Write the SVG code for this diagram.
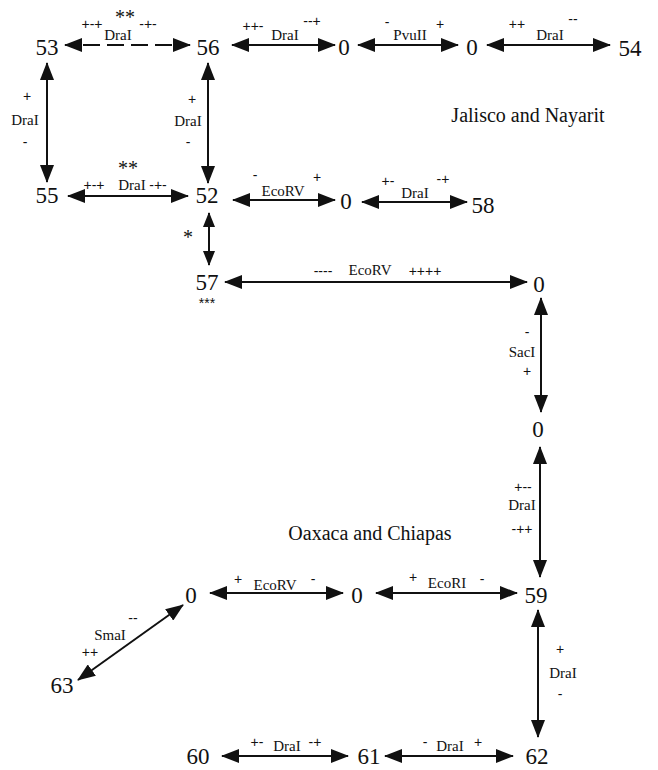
<svg xmlns="http://www.w3.org/2000/svg" width="658" height="770" viewBox="0 0 658 770">
<style>
.n{font-family:'Liberation Serif','DejaVu Serif','Times New Roman',serif;font-size:23px;fill:#111;text-anchor:middle}
.e{font-family:'Liberation Serif','DejaVu Serif','Times New Roman',serif;font-size:15px;fill:#111;text-anchor:middle}
.s{font-family:'Liberation Sans',Arial,sans-serif;font-size:14px;fill:#111;text-anchor:middle}
.st{font-family:'Liberation Serif','DejaVu Serif','Times New Roman',serif;font-size:20px;fill:#111;text-anchor:middle}
.t{font-family:'Liberation Serif','DejaVu Serif','Times New Roman',serif;font-size:20px;fill:#111;text-anchor:middle}
.c{stroke:#111;stroke-width:2;fill:none;marker-start:url(#ah);marker-end:url(#ah)}
.cs{stroke:#111;stroke-width:2;fill:none;marker-start:url(#ahs);marker-end:url(#ahs)}
</style>
<defs>
<marker id="ah" viewBox="0 0 18 14" refX="17" refY="7" markerWidth="18" markerHeight="14" markerUnits="userSpaceOnUse" orient="auto-start-reverse"><path d="M0,0 L18,7 L0,14 z" fill="#111"/></marker>
<marker id="ahs" viewBox="0 0 15 12" refX="14" refY="6" markerWidth="15" markerHeight="12" markerUnits="userSpaceOnUse" orient="auto-start-reverse"><path d="M0,0 L15,6 L0,12 z" fill="#111"/></marker>
</defs>
<rect width="658" height="770" fill="#fff"/>
<g id="connectors">
<line class="c" x1="65" y1="45" x2="190" y2="45" stroke-dasharray="17,7" stroke-dashoffset="6"/>
<line class="c" x1="232" y1="45" x2="335" y2="45"/>
<line class="c" x1="358" y1="45" x2="458" y2="45"/>
<line class="c" x1="487" y1="45" x2="610" y2="45"/>
<line class="c" x1="47" y1="63" x2="47" y2="182"/>
<line class="c" x1="208" y1="63" x2="208" y2="183"/>
<line class="c" x1="68" y1="196" x2="188" y2="196"/>
<line class="c" x1="233" y1="200" x2="335" y2="200"/>
<line class="c" x1="362" y1="202" x2="467" y2="202"/>
<line class="cs" x1="209" y1="213" x2="209" y2="265"/>
<line class="c" x1="225" y1="282" x2="527" y2="282"/>
<line class="c" x1="541" y1="298" x2="541" y2="412"/>
<line class="c" x1="540" y1="447" x2="540" y2="577"/>
<line class="c" x1="210" y1="593" x2="343" y2="593"/>
<line class="c" x1="376" y1="593" x2="517" y2="593"/>
<line class="c" x1="538" y1="610" x2="538" y2="737"/>
<line class="c" x1="183" y1="605" x2="78" y2="680"/>
<line class="c" x1="222" y1="756" x2="348" y2="756"/>
<line class="c" x1="385" y1="756" x2="513" y2="756"/>
</g>
<g id="labels">
<text class="s" x="92" y="29">+-+</text>
<text class="st" x="125" y="24">**</text>
<text class="s" x="148" y="29">-+-</text>
<text class="e" x="118" y="40">DraI</text>
<text class="s" x="253" y="31">++-</text>
<text class="e" x="285" y="40">DraI</text>
<text class="s" x="312" y="26">--+</text>
<text class="s" x="387" y="27">-</text>
<text class="e" x="410" y="40">PvuII</text>
<text class="s" x="440" y="29">+</text>
<text class="s" x="517" y="29">++</text>
<text class="e" x="550" y="40">DraI</text>
<text class="s" x="573" y="24">--</text>
<text class="s" x="27" y="101">+</text>
<text class="e" x="25" y="125">DraI</text>
<text class="s" x="25" y="147">-</text>
<text class="s" x="192" y="104">+</text>
<text class="e" x="188" y="126">DraI</text>
<text class="s" x="188" y="147">-</text>
<text class="st" x="128" y="175">**</text>
<text class="s" x="94" y="190">+-+</text>
<text class="e" x="132" y="190">DraI</text>
<text class="s" x="158" y="190">-+-</text>
<text class="s" x="255" y="180">-</text>
<text class="e" x="283" y="196">EcoRV</text>
<text class="s" x="317" y="182">+</text>
<text class="s" x="388" y="186">+-</text>
<text class="e" x="415" y="198">DraI</text>
<text class="s" x="443" y="184">-+</text>
<text class="st" x="188" y="244">*</text>
<text class="s" x="207" y="308">***</text>
<text class="s" x="323" y="276">----</text>
<text class="e" x="370" y="275">EcoRV</text>
<text class="s" x="425" y="276">++++</text>
<text class="s" x="527" y="337">-</text>
<text class="e" x="522" y="357">SacI</text>
<text class="s" x="527" y="376">+</text>
<text class="s" x="523" y="492">+--</text>
<text class="e" x="522" y="510">DraI</text>
<text class="s" x="522" y="534">-++</text>
<text class="s" x="238" y="584">+</text>
<text class="e" x="275" y="590">EcoRV</text>
<text class="s" x="313" y="584">-</text>
<text class="s" x="413" y="582">+</text>
<text class="e" x="447" y="588">EcoRI</text>
<text class="s" x="482" y="584">-</text>
<text class="s" x="560" y="654">+</text>
<text class="e" x="563" y="678">DraI</text>
<text class="s" x="560" y="699">-</text>
<text class="s" x="133" y="623">--</text>
<text class="e" x="110" y="640">SmaI</text>
<text class="s" x="90" y="657">++</text>
<text class="s" x="257" y="747">+-</text>
<text class="e" x="287" y="751">DraI</text>
<text class="s" x="315" y="747">-+</text>
<text class="s" x="425" y="747">-</text>
<text class="e" x="450" y="751">DraI</text>
<text class="s" x="478" y="747">+</text>
<text class="t" x="528" y="122">Jalisco and Nayarit</text>
<text class="t" x="370" y="540">Oaxaca and Chiapas</text>
</g>
<g id="n53"><text class="n" x="47" y="55">53</text></g>
<g id="n56"><text class="n" x="208" y="55">56</text></g>
<g id="n0a"><text class="n" x="344" y="55">0</text></g>
<g id="n0b"><text class="n" x="472" y="55">0</text></g>
<g id="n54"><text class="n" x="630" y="56">54</text></g>
<g id="n55"><text class="n" x="47" y="203">55</text></g>
<g id="n52"><text class="n" x="207" y="203">52</text></g>
<g id="n0c"><text class="n" x="346" y="209">0</text></g>
<g id="n58"><text class="n" x="483" y="213">58</text></g>
<g id="n57"><text class="n" x="207" y="290">57</text></g>
<g id="n0d"><text class="n" x="539" y="292">0</text></g>
<g id="n0e"><text class="n" x="538" y="437">0</text></g>
<g id="n59"><text class="n" x="536" y="603">59</text></g>
<g id="n0f"><text class="n" x="191" y="603">0</text></g>
<g id="n0g"><text class="n" x="357" y="603">0</text></g>
<g id="n63"><text class="n" x="62" y="693">63</text></g>
<g id="n60"><text class="n" x="198" y="764">60</text></g>
<g id="n61"><text class="n" x="369" y="764">61</text></g>
<g id="n62"><text class="n" x="537" y="764">62</text></g>
</svg>
